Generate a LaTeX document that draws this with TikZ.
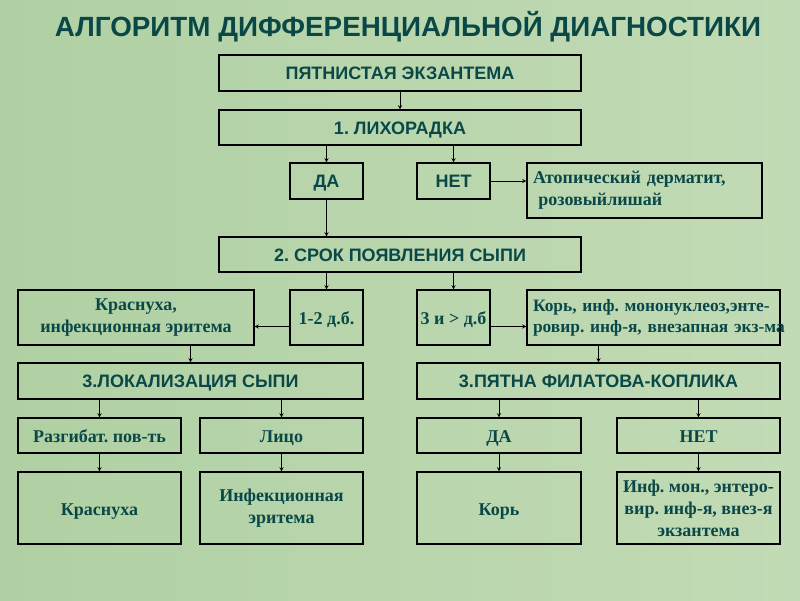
\documentclass[tikz,border=0pt]{standalone}
\usepackage{fontspec}
\setmainfont{Liberation Serif}
\setsansfont{Liberation Sans}
\usepackage{tikz}
\usetikzlibrary{arrows}
\definecolor{ink}{RGB}{10,72,72}
\definecolor{bgleft}{RGB}{176,208,163}
\definecolor{bgright}{RGB}{194,219,182}
\tikzstyle{heading} = [font=\sffamily\bfseries\fontsize{27.8}{32}\selectfont, text=ink]
\tikzstyle{caps} = [rectangle, draw=black, line width=1.2pt, inner sep=0pt, text centered, text height=13pt, text depth=0pt, text=ink, font=\sffamily\bfseries\fontsize{18}{21}\selectfont]
\tikzstyle{serif} = [rectangle, draw=black, line width=1.2pt, inner sep=0pt, align=center, text=ink, font=\bfseries\fontsize{18}{22}\selectfont]
\tikzstyle{single} = [text height=14pt, text depth=0pt]
\tikzstyle{arrow} = [line width=0.9pt,->,>=stealth]

\begin{document}
\frenchspacing
\begin{tikzpicture}[x=1pt, y=-1pt]
\shade[left color=bgleft, right color=bgright] (0,0) rectangle (800,600);
\node (title) [heading] at (408,27) {АЛГОРИТМ ДИФФЕРЕНЦИАЛЬНОЙ ДИАГНОСТИКИ};
\node (spot) [caps, minimum width=362pt, minimum height=36pt] at (400,73) {ПЯТНИСТАЯ ЭКЗАНТЕМА};
\node (fever) [caps, minimum width=362pt, minimum height=35pt] at (400,127.5) {1. ЛИХОРАДКА};
\node (yes) [caps, minimum width=73pt, minimum height=36pt] at (326.5,181) {ДА};
\node (no) [caps, minimum width=73pt, minimum height=36pt] at (453.5,181) {НЕТ};
\node (atop) [serif, minimum width=235pt, minimum height=55pt, text width=223pt, align=left] at (644.5,190.5) {Атопический дерматит,\\\hspace*{0.3em}розовыйлишай};
\node (term) [caps, minimum width=362pt, minimum height=35pt] at (400,254.5) {2. СРОК ПОЯВЛЕНИЯ СЫПИ};
\node (rub) [serif, minimum width=236pt, minimum height=55pt] at (136,317.5) {Краснуха,\\инфекционная эритема};
\node (early) [serif, single, minimum width=73pt, minimum height=55pt] at (326.5,317.5) {1-2 д.б.};
\node (late) [serif, single, minimum width=73pt, minimum height=55pt] at (453.5,317.5) {3 и > д.б};
\node (measles) [serif, minimum width=253pt, minimum height=55pt, text width=241pt, align=left, font=\bfseries\fontsize{17.4}{21}\selectfont] at (653.5,317.5) {\mbox{Корь, инф. мононуклеоз,энте-}\\\mbox{ровир. инф-я, внезапная экз-ма}};
\node (place) [caps, minimum width=345pt, minimum height=36pt] at (190.5,381) {3.ЛОКАЛИЗАЦИЯ СЫПИ};
\node (spots) [caps, minimum width=363pt, minimum height=36pt] at (598.5,381) {3.ПЯТНА ФИЛАТОВА-КОПЛИКА};
\node (ext) [serif, single, minimum width=163pt, minimum height=35pt] at (99.5,435.5) {Разгибат. пов-ть};
\node (face) [serif, single, minimum width=163pt, minimum height=35pt] at (281.5,435.5) {Лицо};
\node (yes2) [serif, single, minimum width=164pt, minimum height=35pt] at (499,435.5) {ДА};
\node (no2) [serif, single, minimum width=163pt, minimum height=35pt] at (698.5,435.5) {НЕТ};
\node (rub2) [serif, single, minimum width=163pt, minimum height=72pt] at (99.5,508) {Краснуха};
\node (ery) [serif, minimum width=163pt, minimum height=72pt] at (281.5,508) {Инфекционная\\эритема};
\node (mea2) [serif, single, minimum width=164pt, minimum height=72pt] at (499,508) {Корь};
\node (mono) [serif, minimum width=163pt, minimum height=72pt] at (698.5,508) {Инф. мон., энтеро-\\вир. инф-я, внез-я\\экзантема};
\draw [arrow] (spot) -- (fever);
\draw [arrow] (fever.south -| yes) -- (yes);
\draw [arrow] (fever.south -| no) -- (no);
\draw [arrow] (no.east) -- (no.east -| atop.west);
\draw [arrow] (yes) -- (yes |- term.north);
\draw [arrow] (term.south -| early) -- (early);
\draw [arrow] (term.south -| late) -- (late);
\draw [arrow] ([yshift=-9pt]early.west) -- ([yshift=-9pt]early.west -| rub.east);
\draw [arrow] ([yshift=-9pt]late.east) -- ([yshift=-9pt]late.east -| measles.west);
\draw [arrow] (rub.south -| place) -- (place);
\draw [arrow] (measles.south -| spots) -- (spots);
\draw [arrow] (place.south -| ext) -- (ext);
\draw [arrow] (place.south -| face) -- (face);
\draw [arrow] (spots.south -| yes2) -- (yes2);
\draw [arrow] (spots.south -| no2) -- (no2);
\draw [arrow] (ext) -- (rub2);
\draw [arrow] (face) -- (ery);
\draw [arrow] (yes2) -- (mea2);
\draw [arrow] (no2) -- (mono);
\end{tikzpicture}
\end{document}
